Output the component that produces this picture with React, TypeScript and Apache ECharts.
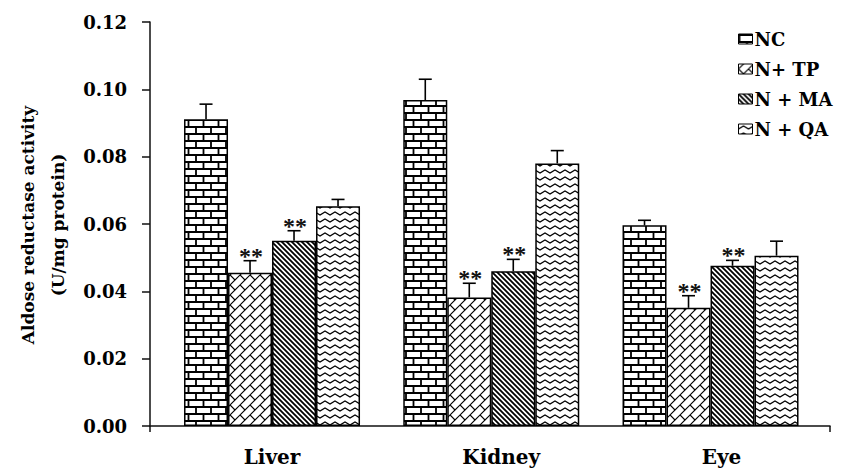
import React, { useEffect, useRef } from 'react';
import * as echarts from 'echarts';

const categories = ['Liver', 'Kidney', 'Eye'];
const seriesNames = ['NC', 'N+ TP', 'N + MA', 'N + QA'];
const ncValues = [0.0911, 0.0968, 0.0596];
const tpValues = [0.0455, 0.0382, 0.0351];
const maValues = [0.055, 0.046, 0.0476];
const qaValues = [0.0653, 0.078, 0.0506];
const ncErrors = [0.0045, 0.0062, 0.0015];
const tpErrors = [0.0036, 0.0042, 0.0036];
const maErrors = [0.003, 0.0035, 0.0016];
const qaErrors = [0.002, 0.0038, 0.0043];
const ncMarks = ['', '', ''];
const tpMarks = ['**', '**', '**'];
const maMarks = ['**', '**', '**'];
const qaMarks = ['', '', ''];
const yMin = 0;
const yMax = 0.12;
const yStep = 0.02;
const yAxisTitle = 'Aldose reductase activity\n(U/mg protein)';

const FONT = '"DejaVu Serif", "Liberation Serif", serif';
const BAR_W = 44;

const svgUrl = (svg: string) => 'data:image/svg+xml;charset=utf-8,' + encodeURIComponent(svg);

const brickPattern = {
  image: svgUrl(
    "<svg xmlns='http://www.w3.org/2000/svg' width='15' height='14'><rect width='15' height='14' fill='white'/><path d='M0 1H15M0 8H15M1 0V8M8.5 7V14' stroke='black' stroke-width='1.8' fill='none'/></svg>"
  ),
  repeat: 'repeat',
  imageWidth: 15,
  imageHeight: 14,
};
const diagBrickPattern = {
  image: svgUrl(
    "<svg xmlns='http://www.w3.org/2000/svg' width='10' height='10'><rect width='10' height='10' fill='white'/><path d='M-1 6L6 -1M4 11L11 4M0 5L5 10' stroke='black' stroke-width='1.2' fill='none'/></svg>"
  ),
  repeat: 'repeat',
  imageWidth: 10,
  imageHeight: 10,
};
const stripePattern = {
  image: svgUrl(
    "<svg xmlns='http://www.w3.org/2000/svg' width='5' height='5'><rect width='5' height='5' fill='white'/><path d='M-1 -1L6 6M-1 4L1 6M4 -1L6 1' stroke='black' stroke-width='1.8' fill='none'/></svg>"
  ),
  repeat: 'repeat',
  imageWidth: 5,
  imageHeight: 5,
};
const zigzagPattern = {
  image: svgUrl(
    "<svg xmlns='http://www.w3.org/2000/svg' width='10' height='7'><rect width='10' height='7' fill='white'/><path d='M-1 4.6L0 5L5 2L10 5L11 4.4' stroke='black' stroke-width='1.2' fill='none'/></svg>"
  ),
  repeat: 'repeat',
  imageWidth: 10,
  imageHeight: 7,
};

const seriesValues = [ncValues, tpValues, maValues, qaValues];
const seriesErrors = [ncErrors, tpErrors, maErrors, qaErrors];
const seriesMarks = [ncMarks, tpMarks, maMarks, qaMarks];
const seriesPatterns = [brickPattern, diagBrickPattern, stripePattern, zigzagPattern];

export default function App() {
  const ref = useRef<HTMLDivElement>(null);
  useEffect(() => {
    if (!ref.current) return;
    const chart = echarts.init(ref.current, undefined, { renderer: 'svg' });

    const errData: any[] = [];
    seriesValues.forEach((vals, s) => {
      vals.forEach((v, c) => {
        errData.push([c, s, v, seriesErrors[s][c]]);
      });
    });

    const labelStyle = { fontFamily: FONT, fontWeight: 'bold' as const, color: '#000' };

    const option: any = {
      animation: false,
      backgroundColor: '#fff',
      grid: [
        { left: 150, right: 12, top: 22, bottom: 44 },
        { left: 162.4, right: 21.85, top: 22, bottom: 44 },
      ],
      xAxis: [
        {
          type: 'value',
          gridIndex: 0,
          min: 0,
          max: 1,
          interval: 1,
          axisLine: { show: true, lineStyle: { color: '#111', width: 1.5 } },
          axisTick: { show: true, inside: false, length: 6, lineStyle: { color: '#111', width: 1.5 } },
          axisLabel: { show: false },
          splitLine: { show: false },
        },
        {
          type: 'category',
          gridIndex: 1,
          data: categories,
          axisLine: { show: false },
          axisTick: { show: false },
          splitLine: { show: false },
          axisLabel: {
            interval: 0,
            margin: 21,
            fontSize: 20,
            ...labelStyle,
            formatter: (v: string) => `{${v}|${v}}`,
            rich: {
              Liver: { ...labelStyle, fontSize: 20, lineHeight: 20, padding: [0, 0, 0, 0] },
              Kidney: { ...labelStyle, fontSize: 20, lineHeight: 20, padding: [0, 0, 0, 20] },
              Eye: { ...labelStyle, fontSize: 20, lineHeight: 20, padding: [0, 0, 0, 22] },
            },
          },
        },
      ],
      yAxis: [
        {
          type: 'value',
          gridIndex: 0,
          min: yMin,
          max: yMax,
          interval: yStep,
          axisLine: { show: true, lineStyle: { color: '#111', width: 1.5 } },
          axisTick: { show: true, inside: false, length: 8, lineStyle: { color: '#111', width: 1.5 } },
          axisLabel: {
            margin: 23,
            fontSize: 18,
            ...labelStyle,
            formatter: (v: number) => v.toFixed(2),
          },
          splitLine: { show: false },
        },
        {
          type: 'value',
          gridIndex: 1,
          min: yMin,
          max: yMax,
          interval: yStep,
          show: false,
          splitLine: { show: false },
        },
      ],
      legend: {
        data: seriesNames,
        orient: 'vertical',
        left: 738,
        top: 30,
        padding: 0,
        itemWidth: 14,
        itemHeight: 10,
        itemGap: 12,
        icon: 'rect',
        textStyle: { ...labelStyle, fontSize: 18, lineHeight: 18, padding: [0, 0, 0, -3] },
        itemStyle: { borderColor: '#000', borderWidth: 1 },
      },
      graphic: [
        {
          type: 'text',
          x: 43,
          y: 225,
          rotation: Math.PI / 2,
          style: {
            text: yAxisTitle,
            font: `bold 17px ${FONT}`,
            fill: '#000',
            align: 'center',
            verticalAlign: 'middle',
            lineHeight: 30,
          },
        },
      ],
      series: [
        ...seriesNames.map((name, s) => ({
          type: 'bar',
          name,
          xAxisIndex: 1,
          yAxisIndex: 1,
          data: seriesValues[s],
          barWidth: BAR_W,
          barGap: '0%',
          itemStyle: {
            color: seriesPatterns[s],
            borderColor: '#000',
            borderWidth: 1.5,
          },
        })),
        {
          type: 'custom',
          name: 'errors',
          xAxisIndex: 1,
          yAxisIndex: 1,
          data: errData,
          encode: { x: 0, y: 2 },
          z: 10,
          renderItem: (params: any, api: any) => {
            const c = api.value(0);
            const s = api.value(1);
            const m = api.value(2);
            const e = api.value(3);
            const base = api.coord([c, m]);
            const top = api.coord([c, m + e]);
            const x = base[0] + (s - 1.5) * BAR_W;
            const stroke = { stroke: '#000', lineWidth: 1.6 };
            const children: any[] = [
              { type: 'line', shape: { x1: x, y1: base[1], x2: x, y2: top[1] }, style: stroke },
              { type: 'line', shape: { x1: x - 6.5, y1: top[1], x2: x + 6.5, y2: top[1] }, style: stroke },
            ];
            const mark = seriesMarks[s][c];
            if (mark) {
              children.push({
                type: 'text',
                x: x + 1,
                y: top[1] - 5,
                style: {
                  text: mark,
                  font: 'bold 24px "Liberation Serif", serif',
                  fill: '#111',
                  align: 'center',
                  verticalAlign: 'middle',
                },
              });
            }
            return { type: 'group', children };
          },
        },
      ],
    };
    chart.setOption(option);
    return () => chart.dispose();
  }, []);
  return (
    <div
      ref={ref}
      style={{ position: 'fixed', left: 0, top: 0, width: 842, height: 470, background: '#fff' }}
    />
  );
}
